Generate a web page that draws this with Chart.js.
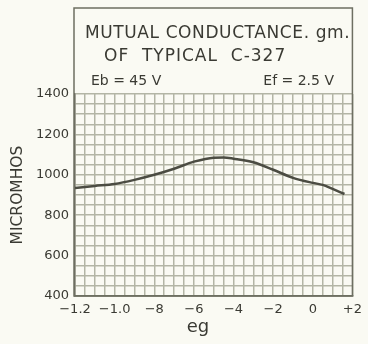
<!DOCTYPE html>
<html>
<head>
<meta charset="utf-8">
<script src="https://cdn.jsdelivr.net/npm/chart.js@4"></script>
<style>
	html, body { margin: 0; padding: 0; background: #fafaf3; }
	#wrap { width: 368px; height: 344px; }
</style>
</head>
<body>
<div id="wrap"><canvas id="chart"></canvas></div>
<script>
// данные кривой gm (eg в вольтах, gm в микромо)
const egValues = [-1.2, -1.1, -1.0, -0.9, -0.8, -0.7, -0.6, -0.5, -0.45, -0.4, -0.3, -0.2, -0.1, 0, 0.05, 0.1, 0.16];
const gmValues = [935, 945, 955, 975, 1000, 1030, 1065, 1085, 1086, 1080, 1062, 1025, 985, 960, 950, 930, 905];
// подписи делений как на оригинале
const xTickValues = [-1.2, -1.0, -0.8, -0.6, -0.4, -0.2, 0, 0.2];
const xTickLabels = ['\u22121.2', '\u22121.0', '\u22128', '\u22126', '\u22124', '\u22122', '0', '+2'];
const yTickValues = [400, 600, 800, 1000, 1200, 1400];
const yTickLabels = ['400', '600', '800', '1000', '1200', '1400'];
const titleLines = ['MUTUAL CONDUCTANCE. gm.', 'OF  TYPICAL  C-327'];
const conditionLeft = 'Eb = 45 V';
const conditionRight = 'Ef = 2.5 V';
const xAxisTitle = 'eg';

const inkColor = '#3a3a33';
const gridColor = '#b3b5a5';
const fontFamily = '"DejaVu Sans", sans-serif';

// плагин для рамки, заголовка в рамке и подписи оси x
const titleBox = {
	id: 'titleBox',
	afterDraw(chart) {
		const { ctx, chartArea: { left, right, bottom } } = chart;
		ctx.save();
		ctx.strokeStyle = '#6e6f62';
		ctx.lineWidth = 1.5;
		ctx.strokeRect(left - 1, 8, right - left + 1, bottom - 8);
		ctx.fillStyle = inkColor;
		ctx.textBaseline = 'alphabetic';
		ctx.font = '17px ' + fontFamily;
		ctx.textAlign = 'left';
		ctx.letterSpacing = '0.6px';
		ctx.fillText(titleLines[0], 85, 38);
		ctx.letterSpacing = '1px';
		ctx.fillText(titleLines[1], 104, 61);
		ctx.letterSpacing = '0px';
		ctx.font = '14px ' + fontFamily;
		ctx.fillText(conditionLeft, 91, 85);
		ctx.textAlign = 'right';
		ctx.fillText(conditionRight, 334, 85);
		ctx.textAlign = 'center';
		ctx.font = '18px ' + fontFamily;
		ctx.fillText(xAxisTitle, 198, 332);
		ctx.restore();
	},
};

function pickLabel(values, labels, value) {
	const i = values.findIndex((v) => Math.abs(v - value) < 1e-6);
	return i >= 0 ? labels[i] : '';
}

const chartConfig = {
	type: 'line',
	data: {
		datasets: [
			{
				data: egValues.map((x, i) => ({ x: x, y: gmValues[i] })),
				borderColor: '#4b4c42',
				borderWidth: 2.5,
				pointRadius: 0,
				cubicInterpolationMode: 'monotone',
				fill: false,
			},
		],
	},
	options: {
		responsive: true,
		maintainAspectRatio: false,
		animation: false,
		layout: { padding: { top: 94, right: 8, left: 0, bottom: 0 } },
		plugins: {
			legend: { display: false },
			tooltip: { enabled: false },
		},
		scales: {
			x: {
				type: 'linear',
				min: -1.2,
				max: 0.2,
				border: { display: true, color: '#6e6f62', width: 1.5 },
				grid: { color: gridColor, lineWidth: 1.5, drawTicks: false },
				afterFit: (scale) => { scale.height = 48; },
				ticks: {
					stepSize: 0.05,
					autoSkip: false,
					maxRotation: 0,
					padding: 6,
					color: inkColor,
					font: { family: fontFamily, size: 13 },
					callback: (value) => pickLabel(xTickValues, xTickLabels, value),
				},
			},
			y: {
				min: 400,
				max: 1400,
				border: { display: true, color: '#6e6f62', width: 1.5 },
				grid: { color: gridColor, lineWidth: 1.5, drawTicks: false },
				afterFit: (scale) => { scale.width = 75; },
				ticks: {
					stepSize: 50,
					autoSkip: false,
					padding: 6,
					color: inkColor,
					font: { family: fontFamily, size: 13 },
					callback: (value) => pickLabel(yTickValues, yTickLabels, value),
				},
				title: {
					display: true,
					text: 'MICROMHOS',
					color: inkColor,
					font: { family: fontFamily, size: 15.5 },
					padding: { top: 9, bottom: 0 },
				},
			},
		},
	},
	plugins: [titleBox],
};

new Chart(document.getElementById('chart'), chartConfig);
</script>
</body>
</html>
